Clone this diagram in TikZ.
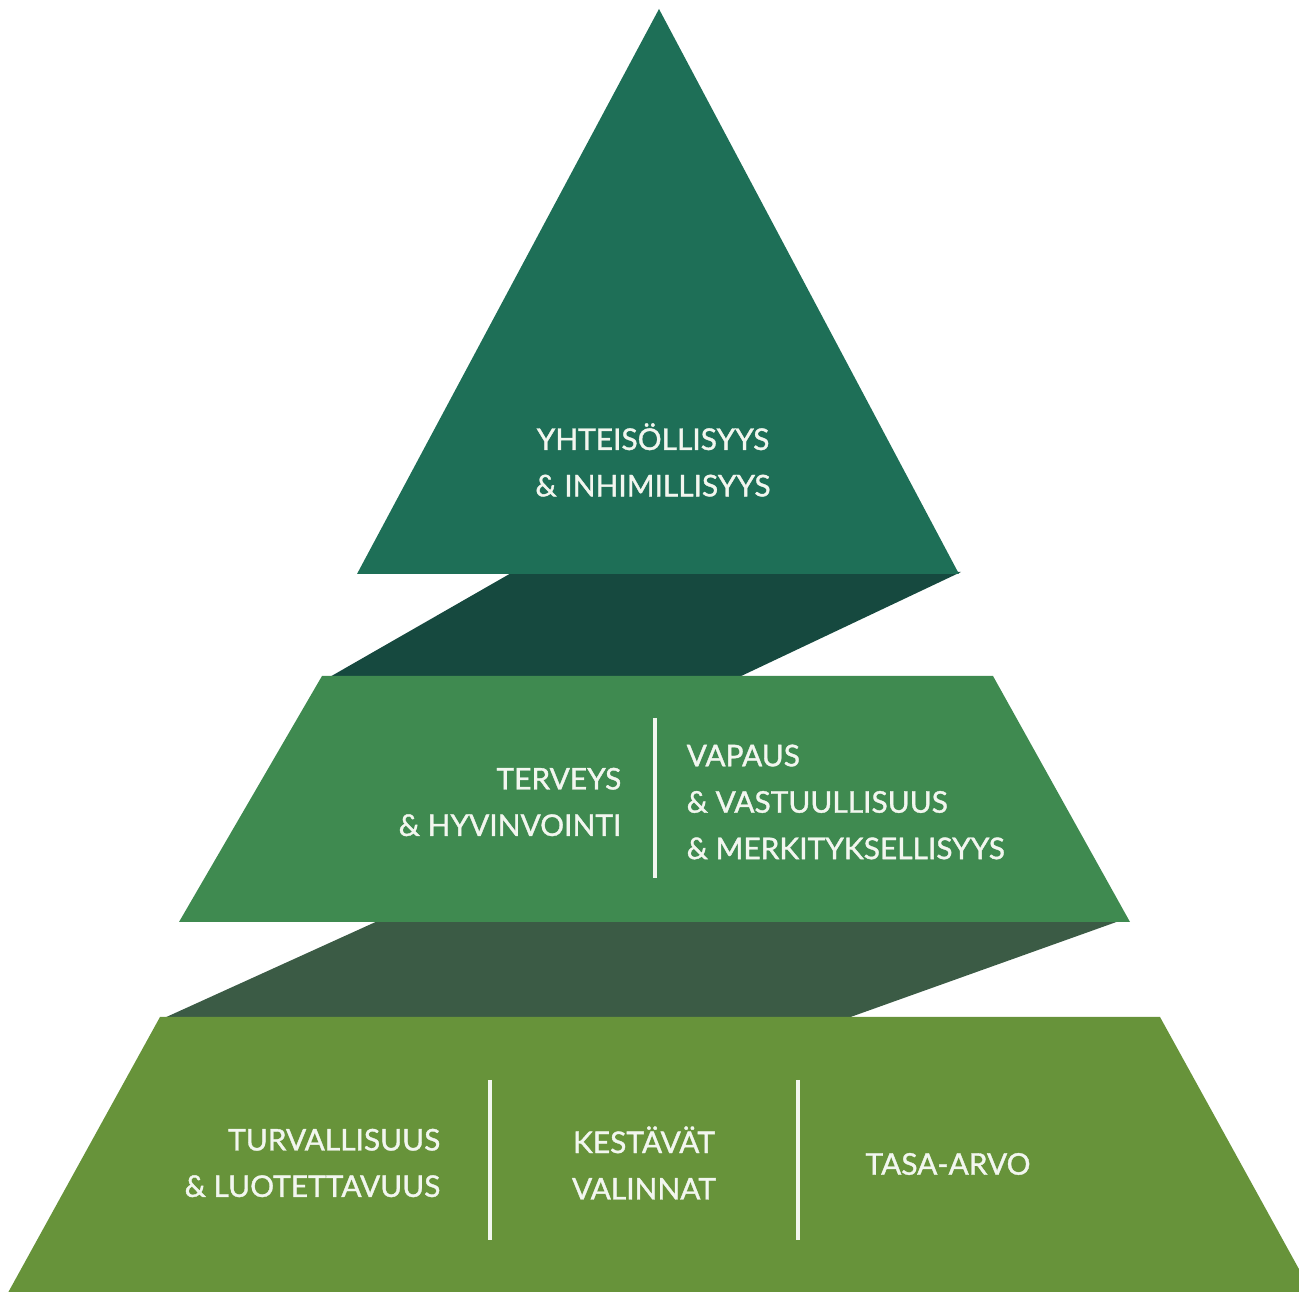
\documentclass[tikz,border=0pt]{standalone}
\usepackage{fontspec}
\setmainfont{Lato}
\newfontfamily\tierfont{Lato}[FakeBold=1.2]
\usepackage{tikz}

\definecolor{tiergreen1}{HTML}{1E6F57}
\definecolor{tiergreen2}{HTML}{3F8A50}
\definecolor{tiergreen3}{HTML}{67933A}
\definecolor{shade1}{HTML}{16493F}
\definecolor{shade2}{HTML}{3B5B45}
\definecolor{labelwhite}{HTML}{F2F6EF}

\tikzset{
  tiertext/.style={text=labelwhite, inner sep=0pt, font=\tierfont\fontsize{8.5}{13.2}\selectfont},
  divider/.style={draw=labelwhite, line width=0.9pt},
}

\begin{document}
\begin{tikzpicture}[x=0.01cm, y=-0.01cm]
\clip (0,0) rectangle (1299,1292);

% shadow bands between the tiers
\fill[shade1] (513,572) -- (961,572) -- (737,678) -- (328,678) -- cycle;
\fill[shade2] (380,920) -- (1122,920) -- (845,1019) -- (162,1019) -- cycle;

% tiers
\fill[tiergreen1] (659,9) -- (959,574) -- (357,574) -- cycle;
\fill[tiergreen2] (322,676) -- (993,676) -- (1130,922) -- (179,922) -- cycle;
\fill[tiergreen3] (160,1017) -- (1160,1017) -- (1316,1300) -- (4,1300) -- cycle;

% top
\node[tiertext, align=center] (top) at (653,460) {YHTEISÖLLISYYS\\\& INHIMILLISYYS};

% middle
\node[tiertext, align=right, anchor=east] (health) at (622,802) {TERVEYS\\\& HYVINVOINTI};
\node[tiertext, align=left, anchor=west] (freedom) at (686,802) {VAPAUS\\\& VASTUULLISUUS\\\& MERKITYKSELLISYYS};
\coordinate (d1a) at (655,718);
\coordinate (d1b) at (655,878);
\draw[divider] (d1a) -- (d1b);

% bottom
\node[tiertext, align=right, anchor=east] (safety) at (441,1163) {TURVALLISUUS\\\& LUOTETTAVUUS};
\node[tiertext, align=center] (choices) at (644,1163) {KESTÄVÄT\\VALINNAT};
\node[tiertext] (equality) at (948,1164) {TASA-ARVO};
\coordinate (d2a) at (490,1080);
\coordinate (d2b) at (490,1240);
\coordinate (d3a) at (798,1080);
\coordinate (d3b) at (798,1240);
\draw[divider] (d2a) -- (d2b);
\draw[divider] (d3a) -- (d3b);
\end{tikzpicture}
\end{document}
